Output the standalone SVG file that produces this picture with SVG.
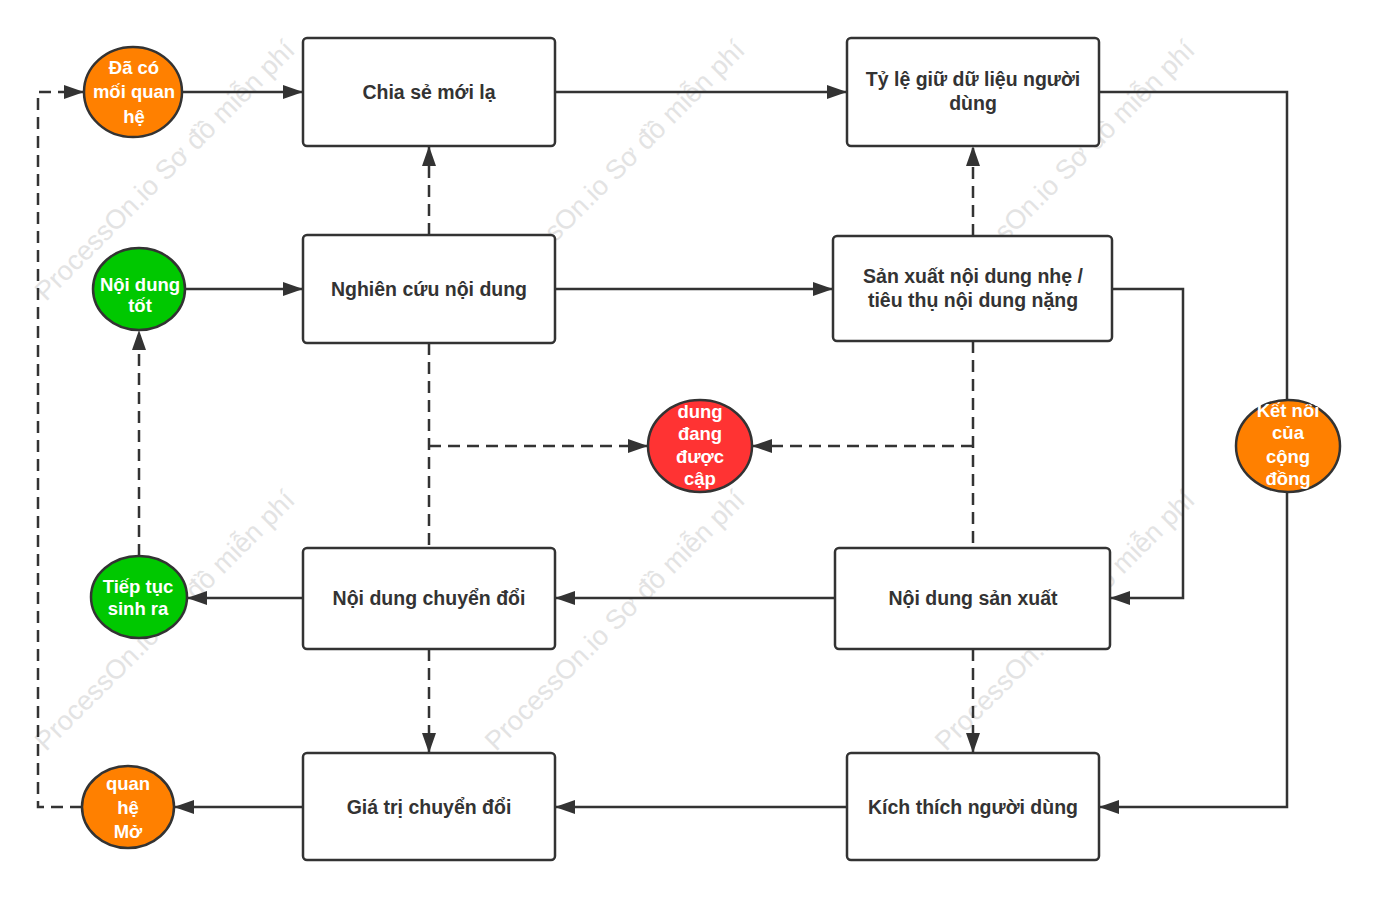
<svg xmlns="http://www.w3.org/2000/svg" width="1377" height="898" viewBox="0 0 1377 898">
<defs>
<marker id="ah" viewBox="0 0 20 14" refX="20" refY="7" markerWidth="20" markerHeight="14" markerUnits="userSpaceOnUse" orient="auto">
<path d="M0,0 L20,7 L0,14 Z" fill="#333"/>
</marker>
<style>
.bg{fill:#fff}
.wm{font-family:"Liberation Sans",Arial,sans-serif;font-size:27px;fill:#e3e3e3}
.box{fill:#fff;stroke:#333;stroke-width:2.5}
.c{stroke:#333;stroke-width:2.5}
.or{fill:#ff8000}
.gr{fill:#00c800}
.rd{fill:#ff3333}
.bt{font-family:"Liberation Sans",Arial,sans-serif;font-size:19.5px;font-weight:bold;fill:#333;text-anchor:middle}
.ct{font-family:"Liberation Sans",Arial,sans-serif;font-size:18.5px;font-weight:bold;fill:#fff;text-anchor:middle}
.ln{fill:none;stroke:#333;stroke-width:2.5}
.ds{stroke-dasharray:12 7}
</style>
</defs>
<rect class="bg" width="1377" height="898"/>
<g id="watermarks">
<text class="wm" transform="translate(46,302) rotate(-45)">ProcessOn.io Sơ đồ miễn phí</text>
<text class="wm" transform="translate(496,302) rotate(-45)">ProcessOn.io Sơ đồ miễn phí</text>
<text class="wm" transform="translate(946,302) rotate(-45)">ProcessOn.io Sơ đồ miễn phí</text>
<text class="wm" transform="translate(46,752) rotate(-45)">ProcessOn.io Sơ đồ miễn phí</text>
<text class="wm" transform="translate(496,752) rotate(-45)">ProcessOn.io Sơ đồ miễn phí</text>
<text class="wm" transform="translate(946,752) rotate(-45)">ProcessOn.io Sơ đồ miễn phí</text>
</g>
<g id="connectors">
<path class="ln" d="M182,92 H303" marker-end="url(#ah)"/>
<path class="ln" d="M555,92 H847" marker-end="url(#ah)"/>
<path class="ln" d="M1099,92 H1287 V807 H1099" marker-end="url(#ah)"/>
<path class="ln" d="M185,289 H303" marker-end="url(#ah)"/>
<path class="ln" d="M555,289 H833" marker-end="url(#ah)"/>
<path class="ln ds" d="M429,235 V146" marker-end="url(#ah)"/>
<path class="ln ds" d="M973,236 V146" marker-end="url(#ah)"/>
<path class="ln" d="M1112,289 H1183 V598 H1110" marker-end="url(#ah)"/>
<path class="ln" d="M835,598 H555" marker-end="url(#ah)"/>
<path class="ln" d="M303,598 H187" marker-end="url(#ah)"/>
<path class="ln ds" d="M139,556 V330" marker-end="url(#ah)"/>
<path class="ln ds" d="M429,649 V753" marker-end="url(#ah)"/>
<path class="ln ds" d="M973,649 V753" marker-end="url(#ah)"/>
<path class="ln" d="M847,807 H555" marker-end="url(#ah)"/>
<path class="ln" d="M303,807 H174" marker-end="url(#ah)"/>
<path class="ln ds" d="M82,807 H38 V92 H84" marker-end="url(#ah)"/>
<path class="ln ds" d="M429,343 V548"/>
<path class="ln ds" d="M429,446 H648" marker-end="url(#ah)"/>
<path class="ln ds" d="M973,341 V548"/>
<path class="ln ds" d="M973,446 H752" marker-end="url(#ah)"/>
</g>
<g id="n-daco">
<ellipse class="c or" cx="133" cy="92" rx="49" ry="45"/>
<text class="ct" x="134" y="74">Đã có</text>
<text class="ct" x="134" y="98">mối quan</text>
<text class="ct" x="134" y="123">hệ</text>
</g>
<g id="n-chiase">
<rect class="box" x="303" y="38" width="252" height="108" rx="4"/>
<text class="bt" x="429" y="99">Chia sẻ mới lạ</text>
</g>
<g id="n-tyle">
<rect class="box" x="847" y="38" width="252" height="108" rx="4"/>
<text class="bt" x="973" y="86">Tỷ lệ giữ dữ liệu người</text>
<text class="bt" x="973" y="110">dùng</text>
</g>
<g id="n-noidungtot">
<ellipse class="c gr" cx="139" cy="289" rx="46" ry="41"/>
<text class="ct" x="140" y="291">Nội dung</text>
<text class="ct" x="140" y="312">tốt</text>
</g>
<g id="n-nghiencuu">
<rect class="box" x="303" y="235" width="252" height="108" rx="4"/>
<text class="bt" x="429" y="296">Nghiên cứu nội dung</text>
</g>
<g id="n-sanxuatnhe">
<rect class="box" x="833" y="236" width="279" height="105" rx="4"/>
<text class="bt" x="973" y="283">Sản xuất nội dung nhẹ /</text>
<text class="bt" x="973" y="307">tiêu thụ nội dung nặng</text>
</g>
<g id="n-duoccap">
<ellipse class="c rd" cx="700" cy="446" rx="52" ry="46"/>
<text class="ct" x="700" y="418">dung</text>
<text class="ct" x="700" y="440">đang</text>
<text class="ct" x="700" y="463">được</text>
<text class="ct" x="700" y="485">cập</text>
</g>
<g id="n-ketnoi">
<ellipse class="c or" cx="1288" cy="446" rx="52" ry="46"/>
<text class="ct" x="1288" y="417">Kết nối</text>
<text class="ct" x="1288" y="439">của</text>
<text class="ct" x="1288" y="463">cộng</text>
<text class="ct" x="1288" y="485">đồng</text>
</g>
<g id="n-tieptuc">
<ellipse class="c gr" cx="139" cy="597" rx="48" ry="41"/>
<text class="ct" x="138" y="593">Tiếp tục</text>
<text class="ct" x="138" y="615">sinh ra</text>
</g>
<g id="n-chuyendoi">
<rect class="box" x="303" y="548" width="252" height="101" rx="4"/>
<text class="bt" x="429" y="605">Nội dung chuyển đổi</text>
</g>
<g id="n-sanxuat">
<rect class="box" x="835" y="548" width="275" height="101" rx="4"/>
<text class="bt" x="973" y="605">Nội dung sản xuất</text>
</g>
<g id="n-quanhemo">
<ellipse class="c or" cx="128" cy="807" rx="46" ry="41"/>
<text class="ct" x="128" y="790">quan</text>
<text class="ct" x="128" y="814">hệ</text>
<text class="ct" x="128" y="838">Mở</text>
</g>
<g id="n-giatri">
<rect class="box" x="303" y="753" width="252" height="107" rx="4"/>
<text class="bt" x="429" y="814">Giá trị chuyển đổi</text>
</g>
<g id="n-kichthich">
<rect class="box" x="847" y="753" width="252" height="107" rx="4"/>
<text class="bt" x="973" y="814">Kích thích người dùng</text>
</g>
</svg>
